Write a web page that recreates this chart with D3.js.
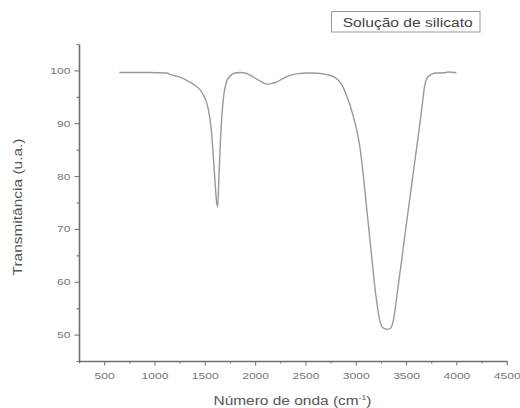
<!DOCTYPE html>
<html>
<head>
<meta charset="utf-8">
<script src="https://cdn.jsdelivr.net/npm/d3@7"></script>
<style>
  body { margin: 0; background: #fff; }
  svg { display: block; font-family: "Liberation Sans", Arial, sans-serif; }
</style>
</head>
<body>
<div id="chart"></div>
<script>
// spectrum
var wavenumber = [650, 800, 954, 1120, 1160, 1220, 1282, 1350, 1400, 1450, 1490, 1520, 1545, 1565, 1585, 1603, 1618, 1628,
                  1640, 1655, 1670, 1690, 1715, 1750, 1800, 1850, 1899, 1950, 2014, 2070, 2114, 2160, 2214, 2280,
                  2346, 2430, 2512, 2620, 2711, 2790, 2843, 2880, 2909, 2942, 2975, 3009, 3042, 3075, 3100, 3150,
                  3200, 3240, 3270, 3310, 3345, 3370, 3390, 3420, 3450, 3500, 3550, 3600, 3640, 3665, 3685, 3710,
                  3758, 3804, 3887, 3917, 3986, 4000];
var transmittance = [99.6, 99.6, 99.6, 99.5, 99.2, 98.9, 98.5, 97.8, 97.2, 96.4, 95.2, 93.8, 91.6, 88.6, 83.6, 78.5, 75.0, 74.2,
                     79.5, 86.5, 91.5, 95.5, 97.8, 98.9, 99.5, 99.6, 99.5, 99.1, 98.4, 97.8, 97.4, 97.5, 97.8, 98.5,
                     99.05, 99.4, 99.5, 99.45, 99.2, 98.7, 97.8, 96.6, 95.2, 93.5, 91.3, 88.8, 85.4, 80.2, 75.5, 66.3,
                     57.4, 52.6, 51.3, 51.0, 51.2, 52.4, 54.6, 59.0, 63.2, 70.5, 77.6, 84.6, 90.3, 94.2, 97.1, 98.6,
                     99.3, 99.5, 99.55, 99.7, 99.6, 99.6];
var xTicks = [500, 1000, 1500, 2000, 2500, 3000, 3500, 4000, 4500],
    xMinor = [250, 750, 1250, 1750, 2250, 2750, 3250, 3750, 4250],
    yTicks = [50, 60, 70, 80, 90, 100],
    yMinor = [45, 55, 65, 75, 85, 95, 105];
var seriesName = "Solução de silicato";

var width = 520, height = 408;

var svg = d3.select("#chart").append("svg")
    .attr("width", width)
    .attr("height", height);

var x = d3.scaleLinear().domain([250, 4500]).range([79, 506.7]);
var y = d3.scaleLinear().domain([45, 105]).range([361, 44]);

// stretch text horizontally (the original lettering is wide)
function stretch(sel, k) {
  sel.each(function() {
    var w = this.getComputedTextLength();
    d3.select(this).attr("textLength", w * k).attr("lengthAdjust", "spacingAndGlyphs");
  });
}

// minor ticks
svg.append("g")
    .attr("transform", "translate(0,361)")
    .call(d3.axisBottom(x).tickValues(xMinor).tickSize(2.5).tickFormat(""))
    .call(function(g) { g.select(".domain").remove(); });
svg.append("g")
    .attr("transform", "translate(79,0)")
    .call(d3.axisLeft(y).tickValues(yMinor).tickSize(2.5).tickFormat(""))
    .call(function(g) { g.select(".domain").remove(); });

var xAxis = svg.append("g")
    .attr("class", "axis")
    .attr("transform", "translate(0,361)")
    .call(d3.axisBottom(x).tickValues(xTicks).tickFormat(d3.format("d")).tickSize(4.5).tickSizeOuter(0).tickPadding(7));

var yAxis = svg.append("g")
    .attr("class", "axis")
    .attr("transform", "translate(79,0)")
    .call(d3.axisLeft(y).tickValues(yTicks).tickFormat(d3.format("d")).tickSize(4.5).tickSizeOuter(0).tickPadding(4));

svg.selectAll(".tick line").attr("stroke", "#777").attr("stroke-width", 1.1);
svg.selectAll(".domain").attr("stroke", "#6f6f6f").attr("stroke-width", 1.6);
svg.selectAll(".axis .tick text")
    .attr("fill", "#777")
    .style("font-size", "9.5px")
    .call(stretch, 1.27);

// spectrum line
var line = d3.line()
    .x(function(d, i) { return x(wavenumber[i]); })
    .y(function(d) { return y(d); })
    .curve(d3.curveMonotoneX);

svg.append("path")
    .datum(transmittance)
    .attr("fill", "none")
    .attr("stroke", "#999")
    .attr("stroke-width", 1.4)
    .attr("d", line);

// axis titles
var xl = svg.append("text")
    .attr("x", 292.5)
    .attr("y", 405)
    .attr("text-anchor", "middle")
    .attr("fill", "#555")
    .style("font-size", "12.5px");
xl.append("tspan").text("Número de onda (cm");
xl.append("tspan").attr("dy", -5).style("font-size", "7px").text("-1");
xl.append("tspan").attr("dy", 5).text(")");
xl.attr("textLength", 158).attr("lengthAdjust", "spacingAndGlyphs");

svg.append("text")
    .attr("transform", "translate(22,207) rotate(-90)")
    .attr("text-anchor", "middle")
    .attr("fill", "#555")
    .style("font-size", "13.5px")
    .text("Transmitância (u.a.)")
    .attr("textLength", 137)
    .attr("lengthAdjust", "spacingAndGlyphs");

// legend
svg.append("rect")
    .attr("x", 331.5)
    .attr("y", 11.5)
    .attr("width", 148.5)
    .attr("height", 20.5)
    .attr("fill", "none")
    .attr("stroke", "#999")
    .attr("stroke-width", 1);

svg.append("text")
    .attr("x", 342.7)
    .attr("y", 26.5)
    .attr("fill", "#444")
    .style("font-size", "12px")
    .text(seriesName)
    .attr("textLength", 130)
    .attr("lengthAdjust", "spacingAndGlyphs");
</script>
</body>
</html>
